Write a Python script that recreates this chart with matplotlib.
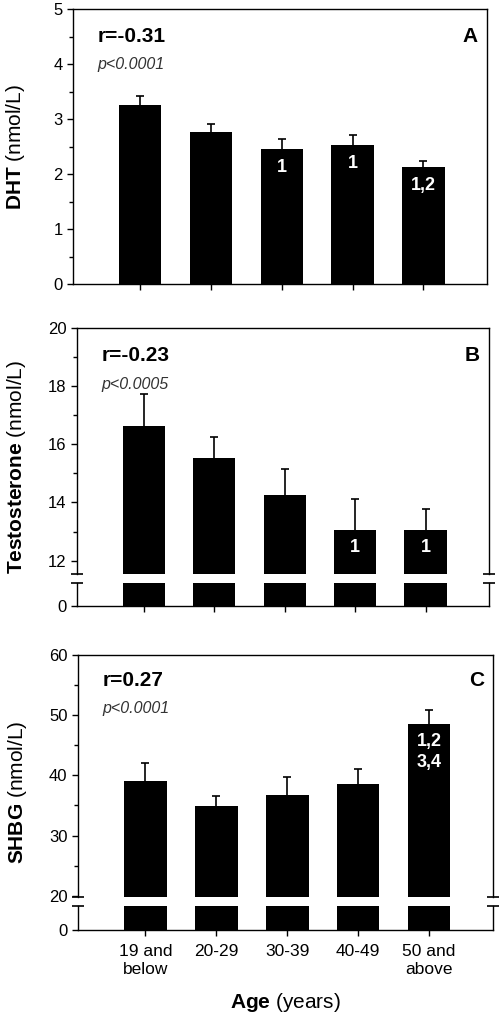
import numpy as np
import matplotlib.pyplot as plt

plt.rcParams['font.family'] = 'Liberation Sans'
plt.rcParams['mathtext.fontset'] = 'custom'
plt.rcParams['mathtext.rm'] = 'Liberation Sans'
plt.rcParams['mathtext.bf'] = 'Liberation Sans:bold'
plt.rcParams['mathtext.it'] = 'Liberation Sans:italic'

# data (mean and upper error)
age_groups = ["19 and\nbelow", "20-29", "30-39", "40-49", "50 and\nabove"]
dht_mean = [3.25, 2.77, 2.45, 2.52, 2.12]
dht_err = [0.17, 0.14, 0.19, 0.19, 0.12]
dht_marks = ["", "", "1", "1", "1,2"]
testo_mean = [16.64, 15.52, 14.24, 13.07, 13.07]
testo_err = [1.10, 0.74, 0.90, 1.06, 0.71]
testo_marks = ["", "", "", "1", "1"]
shbg_mean = [39.1, 34.9, 36.7, 38.6, 48.6]
shbg_err = [2.9, 1.65, 3.0, 2.4, 2.3]
shbg_marks = ["", "", "", "", "1,2\n3,4"]

W, H = 500, 1017
fig = plt.figure(figsize=(W / 100, H / 100), dpi=100)


def box(l, t, r, b):
    # pixel box -> figure fraction
    return [l / W, 1 - b / H, (r - l) / W, (b - t) / H]


x = np.arange(len(age_groups))


def draw_bars(ax, means, errs, marks=None):
    ax.bar(x, means, width=0.6, color='black', zorder=2)
    eb = ax.errorbar(x, means, yerr=[np.zeros(len(x)), errs], fmt='none',
                     ecolor='black', elinewidth=1.2, capsize=3, capthick=1.2, zorder=1)
    eb[1][0].set_visible(False)  # no cap at the bar top
    if marks:
        for xi, m, lab in zip(x, means, marks):
            if lab:
                ax.annotate(lab, (xi, m), xytext=(0, -7), textcoords='offset points',
                            ha='center', va='top', color='white', fontsize=13,
                            fontweight='bold', linespacing=1.25, zorder=3)
    ax.set_xlim(-0.95, 4.9)
    ax.set_xticks(x)
    ax.tick_params(axis='both', direction='out', length=4, width=1, labelsize=12)
    ax.tick_params(axis='x', labelbottom=False)
    for s in ax.spines.values():
        s.set_linewidth(1)


def break_marks(ax, yfrac):
    ax.plot([0, 1], [yfrac, yfrac], transform=ax.transAxes, ls='none', marker='_',
            ms=8, mew=1.2, color='black', clip_on=False)


def panel_text(ax, r, p, letter, ry, py):
    ax.text(0.06, ry, r, transform=ax.transAxes, fontsize=15, fontweight='bold',
            ha='left', va='center')
    ax.text(0.06, py, p, transform=ax.transAxes, fontsize=11.5, style='italic',
            color='#333333', ha='left', va='center')
    ax.text(0.978, ry, letter, transform=ax.transAxes, fontsize=15, fontweight='bold',
            ha='right', va='center')


# Panel A
axA = fig.add_axes(box(73, 9, 487, 284))
draw_bars(axA, dht_mean, dht_err, dht_marks)
axA.set_ylim(0, 5)
axA.set_yticks(range(0, 6))
axA.set_yticks(np.arange(0.5, 5, 1), minor=True)
axA.tick_params(axis='y', which='minor', length=3, width=1)
panel_text(axA, 'r=-0.31', 'p<0.0001', 'A', 0.90, 0.80)

# Panel B (broken axis)
axB = fig.add_axes(box(77, 328, 489, 574))
axB0 = fig.add_axes(box(77, 583, 489, 606))
draw_bars(axB, testo_mean, testo_err, testo_marks)
draw_bars(axB0, testo_mean, testo_err)
axB.set_ylim(11.54, 20)
axB.set_yticks([12, 14, 16, 18, 20])
axB.set_yticks([13, 15, 17, 19], minor=True)
axB.tick_params(axis='y', which='minor', length=3, width=1)
axB.tick_params(axis='x', bottom=False)
axB.spines['bottom'].set_visible(False)
axB0.set_ylim(0, 1)
axB0.set_yticks([0])
axB0.spines['top'].set_visible(False)
break_marks(axB, 0)
break_marks(axB0, 1)
panel_text(axB, 'r=-0.23', 'p<0.0005', 'B', 0.89, 0.77)

# Panel C (broken axis)
axC = fig.add_axes(box(78, 655, 493, 897))
axC0 = fig.add_axes(box(78, 906, 493, 930))
draw_bars(axC, shbg_mean, shbg_err, shbg_marks)
draw_bars(axC0, shbg_mean, shbg_err)
axC.set_ylim(19.8, 60)
axC.set_yticks([20, 30, 40, 50, 60])
axC.set_yticks([25, 35, 45, 55], minor=True)
axC.tick_params(axis='y', which='minor', length=3, width=1)
axC.tick_params(axis='x', bottom=False)
axC.spines['bottom'].set_visible(False)
axC0.set_ylim(0, 1)
axC0.set_yticks([0])
axC0.spines['top'].set_visible(False)
axC0.tick_params(axis='x', labelbottom=True, pad=6)
axC0.set_xticklabels(age_groups, fontsize=12.5, linespacing=1.3)
break_marks(axC, 0)
break_marks(axC0, 1)
panel_text(axC, 'r=0.27', 'p<0.0001', 'C', 0.895, 0.78)

# axis labels
fig.text(16 / W, 1 - 147 / H, r'$\bf{DHT}$ (nmol/L)', rotation=90, ha='center',
         va='center', fontsize=15)
fig.text(17 / W, 1 - 467 / H, r'$\bf{Testosterone}$ (nmol/L)', rotation=90,
         ha='center', va='center', fontsize=15)
fig.text(18 / W, 1 - 792 / H, r'$\bf{SHBG}$ (nmol/L)', rotation=90, ha='center',
         va='center', fontsize=15)
fig.text(285 / W, 1 - 1002 / H, r'$\bf{Age}$ (years)', ha='center', va='center',
         fontsize=15)

fig.savefig('out.png', dpi=100)
